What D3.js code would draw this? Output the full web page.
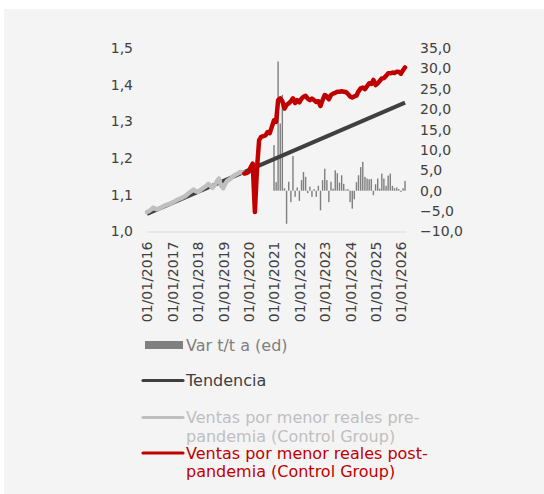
<!DOCTYPE html>
<html>
<head>
<meta charset="utf-8">
<script src="https://cdn.jsdelivr.net/npm/d3@7"></script>
<style>
  body { margin: 0; background: #fff; }
  svg text { font-family: "DejaVu Sans", sans-serif; }
</style>
</head>
<body>
<svg id="chart" width="544" height="494"></svg>
<script>
// monthly series, first month given, one value per month
var preStart = "2016-01";
var preValues = [1.053,1.056,1.060,1.065,1.062,1.060,1.063,1.066,1.070,1.072,1.074,1.076,
  1.079,1.082,1.085,1.088,1.090,1.093,1.096,1.101,1.106,1.110,1.114,1.110,
  1.108,1.112,1.116,1.120,1.124,1.130,1.124,1.119,1.127,1.136,1.144,1.125,
  1.118,1.130,1.138,1.142,1.146,1.152,1.155,1.158,1.162,1.161,1.160,1.158];

var postStart = "2019-11";
var postValues = [1.158,1.160,1.162,1.175,1.185,1.053,1.170,1.249,1.258,1.260,1.262,1.271,1.268,1.285,
  1.303,1.299,1.358,1.363,1.355,1.335,1.345,1.349,1.355,1.363,1.350,1.358,
  1.352,1.362,1.367,1.370,1.362,1.358,1.362,1.358,1.353,1.355,1.342,1.358,
  1.372,1.368,1.360,1.372,1.376,1.378,1.381,1.381,1.382,1.381,1.380,1.375,
  1.368,1.365,1.368,1.370,1.382,1.390,1.392,1.388,1.396,1.404,1.402,1.413,
  1.399,1.404,1.410,1.417,1.418,1.424,1.431,1.431,1.433,1.432,1.435,1.435,
  1.430,1.440,1.447];

var trendDates = ["2016-01","2026-03"];
var trendValues = [1.048, 1.351];

var barStart = "2021-01";
var barValues = [11.2,2.1,31.7,16.5,23.5,0.6,-8.1,2.2,-2.8,8.5,-1.5,0.8,
  -2.5,2.6,4.6,3.4,-0.6,1.0,-1.5,0.4,-1.5,1.2,-4.8,2.6,
  5.4,2.6,-2.8,2.2,0.5,5.0,4.3,2.0,3.8,1.7,0.3,0.4,
  -2.8,-4.4,-2.1,2.1,3.8,5.8,7.1,3.4,3.0,2.8,2.9,-1.1,
  1.6,3.0,0.5,4.2,3.0,1.2,3.7,4.2,1.2,0.6,0.8,0.4,
  -0.3,0.6,2.4];

var leftTicks = [1.0,1.1,1.2,1.3,1.4,1.5];
var rightTicks = [-10,-5,0,5,10,15,20,25,30,35];
var yearTicks = ["2016","2017","2018","2019","2020","2021","2022","2023","2024","2025","2026"];

var legendLabels = [
  ["Var t/t a (ed)"],
  ["Tendencia"],
  ["Ventas por menor reales pre-","pandemia (Control Group)"],
  ["Ventas por menor reales post-","pandemia (Control Group)"]
];

var colBar = "#7f7f7f", colTrend = "#404040", colPre = "#bfbfbf", colPost = "#c00000";

var parseMonth = d3.timeParse("%Y-%m");
function monthly(start, values) {
  var d0 = parseMonth(start);
  return values.map(function(v, i) { return {date: d3.timeMonth.offset(d0, i), value: v}; });
}

var pre = monthly(preStart, preValues);
var post = monthly(postStart, postValues);
var bars = monthly(barStart, barValues);
var trend = trendDates.map(function(d, i) { return {date: parseMonth(d), value: trendValues[i]}; });

var locale = d3.formatLocale({decimal: ",", thousands: ".", grouping: [3], currency: ["", "€"]});
var fmt = locale.format(".1f");

var svg = d3.select("#chart");
svg.append("rect").attr("x", 4).attr("y", 9).attr("width", 540).attr("height", 485).attr("fill", "#f4f4f4");

var plotLeft = 147, plotRight = 406, plotTop = 48, plotBottom = 231.5;

var x = d3.scaleTime().domain([new Date(2016,0,1), new Date(2026,2,15)]).range([plotLeft, plotRight]);
var yL = d3.scaleLinear().domain([1.0, 1.5]).range([plotBottom, plotTop]);
var yR = d3.scaleLinear().domain([-10, 35]).range([plotBottom, plotTop]);

// x axis
var xAxis = svg.append("g").attr("transform", "translate(0," + plotBottom + ")")
  .call(d3.axisBottom(x).tickValues(yearTicks.map(function(y){ return new Date(+y,0,1); }))
    .tickFormat(d3.timeFormat("%d/%m/%Y")).tickSize(0));
xAxis.select(".domain").attr("stroke", "#d9d9d9").attr("stroke-width", 1.2);
xAxis.selectAll("text").attr("transform", "rotate(-90)").attr("text-anchor", "end")
  .attr("x", -10).attr("y", 0).attr("dy", "0.35em")
  .style("font-size", "14px").attr("fill", "#404040");

var lAxis = svg.append("g").attr("transform", "translate(" + plotLeft + ",0)")
  .call(d3.axisLeft(yL).tickValues(leftTicks).tickFormat(fmt).tickSize(0).tickPadding(14));
lAxis.select(".domain").remove();
lAxis.selectAll("text").style("font-size", "14px").attr("fill", "#404040");

var rAxis = svg.append("g").attr("transform", "translate(" + plotRight + ",0)")
  .call(d3.axisRight(yR).tickValues(rightTicks).tickFormat(fmt).tickSize(0).tickPadding(14));
rAxis.select(".domain").remove();
rAxis.selectAll("text").style("font-size", "14px").attr("fill", "#404040");

// bars (right axis)
var bw = 1.4;
svg.append("g").selectAll("rect").data(bars).enter().append("rect")
  .attr("x", function(d) { return x(d.date) - bw / 2; })
  .attr("y", function(d) { return yR(Math.max(0, d.value)); })
  .attr("width", bw)
  .attr("height", function(d) { return Math.abs(yR(d.value) - yR(0)); })
  .attr("fill", colBar);

var lineL = d3.line().x(function(d) { return x(d.date); }).y(function(d) { return yL(d.value); });

svg.append("path").datum(trend).attr("d", lineL).attr("fill", "none")
  .attr("stroke", colTrend).attr("stroke-width", 4);
svg.append("path").datum(pre).attr("d", lineL).attr("fill", "none")
  .attr("stroke", colPre).attr("stroke-width", 4.5).attr("stroke-linejoin", "round").attr("stroke-linecap", "round");
svg.append("path").datum(post).attr("d", lineL).attr("fill", "none")
  .attr("stroke", colPost).attr("stroke-width", 4.5).attr("stroke-linejoin", "round").attr("stroke-linecap", "round");

// legend
var lg = svg.append("g");
var rowY = [345, 380.5, 417.5, 453];
var colors = [colBar, colTrend, colPre, colPost];
legendLabels.forEach(function(lines, i) {
  if (i === 0) {
    lg.append("rect").attr("x", 145).attr("y", rowY[i] - 4).attr("width", 38).attr("height", 8).attr("fill", colBar);
  } else {
    lg.append("line").attr("x1", 143).attr("x2", 183).attr("y1", rowY[i]).attr("y2", rowY[i])
      .attr("stroke", colors[i]).attr("stroke-width", 3.2).attr("stroke-linecap", "round");
  }
  var t = lg.append("text").attr("x", 186).attr("y", rowY[i] + 5.8)
    .attr("fill", colors[i]).style("font-size", "16px");
  lines.forEach(function(s, j) {
    t.append("tspan").attr("x", 186).attr("dy", j === 0 ? 0 : 18.3).text(s);
  });
});
</script>
</body>
</html>
